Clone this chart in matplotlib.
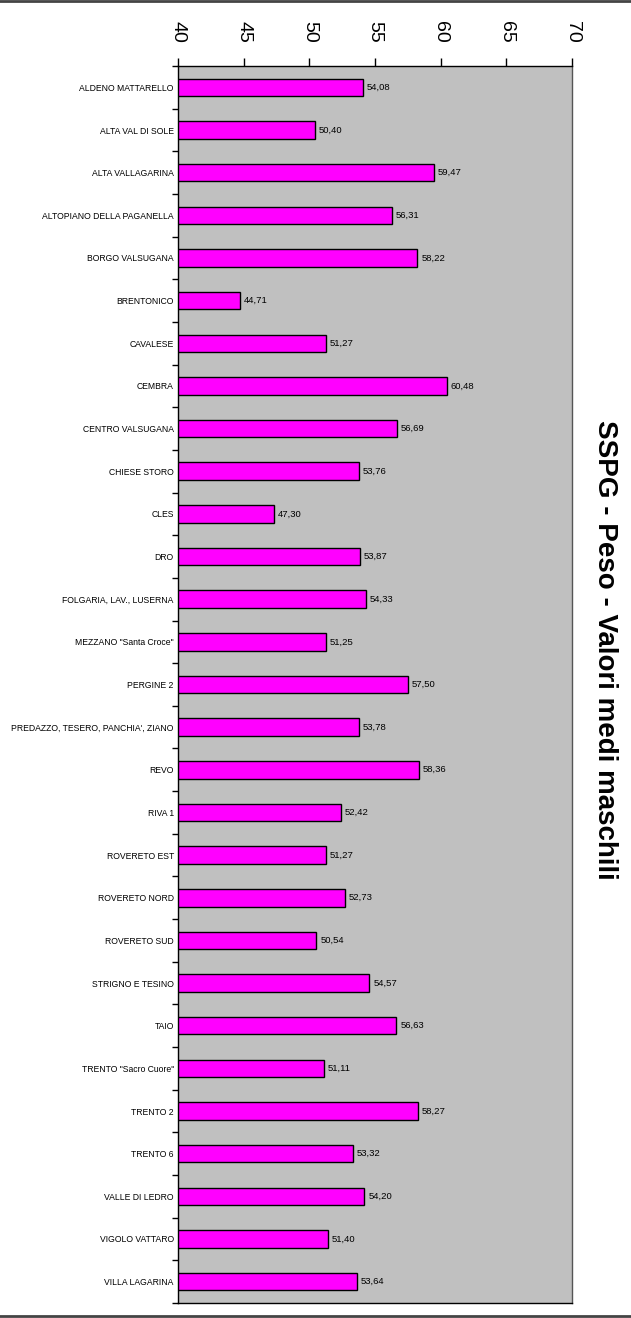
import numpy as np
import matplotlib
matplotlib.use("Agg")
import matplotlib.pyplot as plt
from matplotlib.lines import Line2D

schools = ["ALDENO MATTARELLO", "ALTA VAL DI SOLE", "ALTA VALLAGARINA",
           "ALTOPIANO DELLA PAGANELLA", "BORGO VALSUGANA", "BRENTONICO",
           "CAVALESE", "CEMBRA", "CENTRO VALSUGANA", "CHIESE STORO", "CLES",
           "DRO", "FOLGARIA, LAV., LUSERNA", 'MEZZANO "Santa Croce"',
           "PERGINE 2", "PREDAZZO, TESERO, PANCHIA', ZIANO", "REVO", "RIVA 1",
           "ROVERETO EST", "ROVERETO NORD", "ROVERETO SUD", "STRIGNO E TESINO",
           "TAIO", 'TRENTO "Sacro Cuore"', "TRENTO 2", "TRENTO 6",
           "VALLE DI LEDRO", "VIGOLO VATTARO", "VILLA LAGARINA"]
weights = [54.08, 50.40, 59.47, 56.31, 58.22, 44.71, 51.27, 60.48, 56.69,
           53.76, 47.30, 53.87, 54.33, 51.25, 57.50, 53.78, 58.36, 52.42,
           51.27, 52.73, 50.54, 54.57, 56.63, 51.11, 58.27, 53.32, 54.20,
           51.40, 53.64]
x_ticks = [40, 45, 50, 55, 60, 65, 70]

plt.rcParams["font.family"] = ["Liberation Sans", "DejaVu Sans"]

fig = plt.figure(figsize=(6.31, 13.18), dpi=100)
ax = fig.add_axes([0.2821, 0.0114, 0.6244, 0.9385])
ax.set_facecolor("#c0c0c0")

y = np.arange(len(schools))
ax.barh(y, weights, height=0.41, color="#ff00ff", edgecolor="black", linewidth=1)

# value labels, italian decimal comma
for yi, v in zip(y, weights):
    ax.text(v + 0.3, yi, ("%.2f" % v).replace(".", ","), va="center",
            ha="left", fontsize=6.8)

ax.set_xlim(40, 70)
ax.set_ylim(len(schools) - 0.5, -0.5)
ax.xaxis.tick_top()
ax.set_xticks(x_ticks)
ax.set_xticklabels([str(t) for t in x_ticks], rotation=-90, fontsize=14)
ax.tick_params(axis="x", direction="out", length=6, width=1, pad=11)

ax.set_yticks(y)
ax.set_yticklabels(schools, fontsize=6.2)
ax.tick_params(axis="y", which="major", length=0, pad=3)
ax.set_yticks(np.arange(len(schools) + 1) - 0.5, minor=True)
ax.tick_params(axis="y", which="minor", direction="out", length=4, width=1)

for side in ["top", "left", "bottom"]:
    ax.spines[side].set_color("black")
    ax.spines[side].set_linewidth(1)
ax.spines["right"].set_color("#555555")
ax.spines["right"].set_linewidth(1)

fig.text(0.959, 0.507, "SSPG - Peso - Valori medi maschili", rotation=-90,
         ha="center", va="center", fontsize=20, fontweight="bold")

fig.add_artist(Line2D([0, 1], [0.9992, 0.9992], color="#444444", linewidth=2))
fig.add_artist(Line2D([0, 1], [0.0015, 0.0015], color="#444444", linewidth=2))

fig.savefig("out.png", dpi=100)
